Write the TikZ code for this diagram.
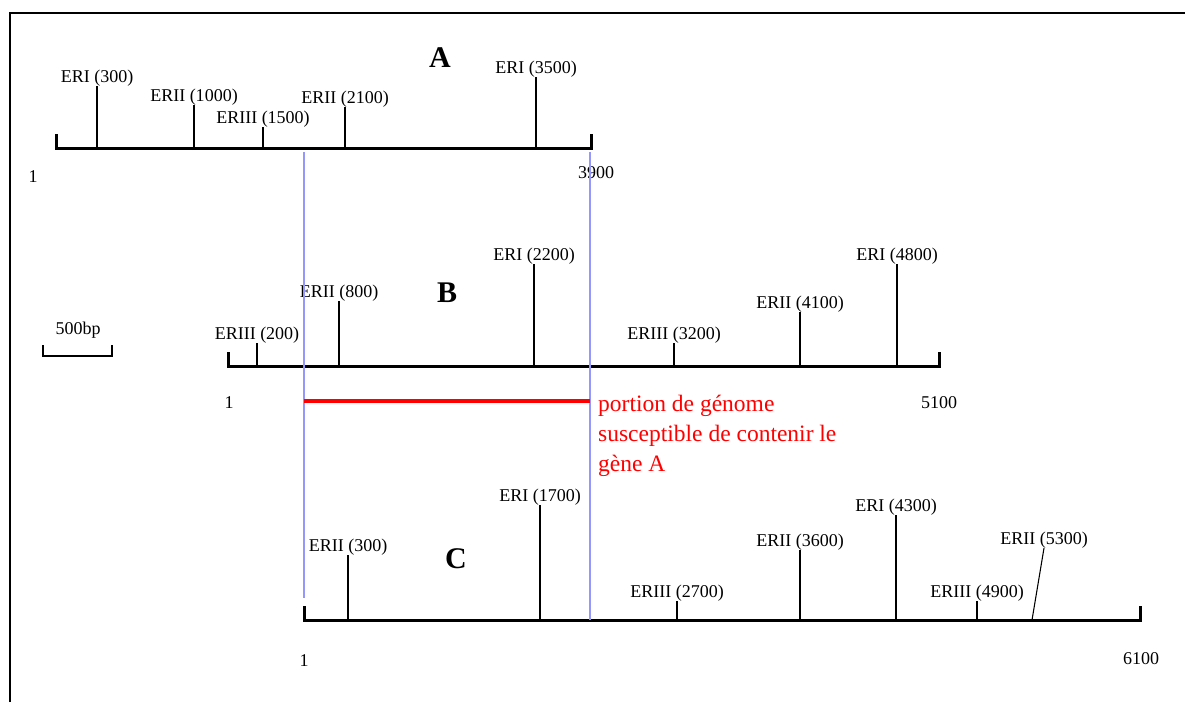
\documentclass[tikz,border=0pt]{standalone}
\usepackage{fontspec}
\setmainfont{Liberation Serif}
\definecolor{guideblue}{RGB}{150,150,255}
\definecolor{markred}{RGB}{255,0,0}
\newcommand\rsite[6]{\draw[sitestick] (#2,#3) -- (#4,#5) node[sitelab] (#1) {#6};}
\begin{document}
\begin{tikzpicture}[x=1pt,y=-1pt,
  seqline/.style={line width=3pt, line join=miter, line cap=butt},
  sitestick/.style={line width=1.1pt},
  sitelab/.style={font=\fontsize{18}{20}\selectfont, inner sep=0pt, anchor=south, yshift=-1pt},
  numlab/.style={font=\fontsize{18}{20}\selectfont, inner sep=0pt},
  tag/.style={font=\fontsize{30}{32}\selectfont\bfseries, inner sep=0pt},
  guide/.style={line width=1.3pt, draw=guideblue},
  frame/.style={line width=2.7pt, line cap=butt, line join=miter}]
\useasboundingbox (0,0) rectangle (1185,702);
\fill[white] (0,0) rectangle (1185,702);
% frame
\draw[frame] (10,702) -- (10,13) -- (1185,13);

% ---------- A ----------
\coordinate (A0) at (56,148);
\coordinate (A1) at (591,148);
\draw[seqline] ([yshift=14pt]A0) -- (A0) -- (A1) -- ([yshift=14pt]A1);
\node[tag] (tA) at (440,58) {A};
\rsite{a1}{97}{148}{97}{86}{ERI (300)}
\rsite{a2}{194}{148}{194}{105}{ERII (1000)}
\rsite{a3}{263}{148}{263}{127}{ERIII (1500)}
\rsite{a4}{345}{148}{345}{107}{ERII (2100)}
\rsite{a5}{536}{148}{536}{77}{ERI (3500)}
\node[numlab] (nA0) at (33,177) {1};
\node[numlab] (nA1) at (596,173) {3900};

% ---------- B ----------
\coordinate (B0) at (228,366);
\coordinate (B1) at (939,366);
\draw[seqline] ([yshift=14pt]B0) -- (B0) -- (B1) -- ([yshift=14pt]B1);
\node[tag] (tB) at (447,293) {B};
\rsite{b1}{257}{366}{257}{343}{ERIII (200)}
\rsite{b2}{339}{366}{339}{301}{ERII (800)}
\rsite{b3}{534}{366}{534}{264}{ERI (2200)}
\rsite{b4}{674}{366}{674}{343}{ERIII (3200)}
\rsite{b5}{800}{366}{800}{312}{ERII (4100)}
\rsite{b6}{897}{366}{897}{264}{ERI (4800)}
\node[numlab] (nB0) at (229,403) {1};
\node[numlab] (nB1) at (939,403) {5100};

% scale bar
\draw[line width=1.3pt] (43,345) -- (43,356) -- (112,356) -- (112,345);
\node[numlab] (scale) at (78,330) {500bp};

% ---------- C ----------
\coordinate (C0) at (304,620);
\coordinate (C1) at (1140,620);
\draw[seqline] ([yshift=14pt]C0) -- (C0) -- (C1) -- ([yshift=14pt]C1);
\node[tag] (tC) at (456,559) {C};
\rsite{c1}{348}{620}{348}{555}{ERII (300)}
\rsite{c2}{540}{620}{540}{505}{ERI (1700)}
\rsite{c3}{677}{620}{677}{601}{ERIII (2700)}
\rsite{c4}{800}{620}{800}{550}{ERII (3600)}
\rsite{c5}{896}{620}{896}{515}{ERI (4300)}
\rsite{c6}{977}{620}{977}{601}{ERIII (4900)}
\rsite{c7}{1032}{620}{1044}{548}{ERII (5300)}
\node[numlab] (nC0) at (304,661) {1};
\node[numlab] (nC1) at (1141,659) {6100};

% guide lines
\coordinate (g1t) at (304,152);
\coordinate (g1b) at (304,598);
\coordinate (g2t) at (590,152);
\coordinate (g2b) at (590,620);
\draw[guide] (g1t) -- (g1b);
\draw[guide] (g2t) -- (g2b);

% red portion
\coordinate (r0) at (304,401);
\coordinate (r1) at (590,401);
\draw[line width=4pt, draw=markred] (r0) -- (r1);
\node[anchor=north west, inner sep=0pt, align=left, text=markred,
  font=\fontsize{23.5}{30}\selectfont] (portion) at (598,395)
  {portion de génome\\susceptible de contenir le\\gène A};
\end{tikzpicture}
\end{document}
